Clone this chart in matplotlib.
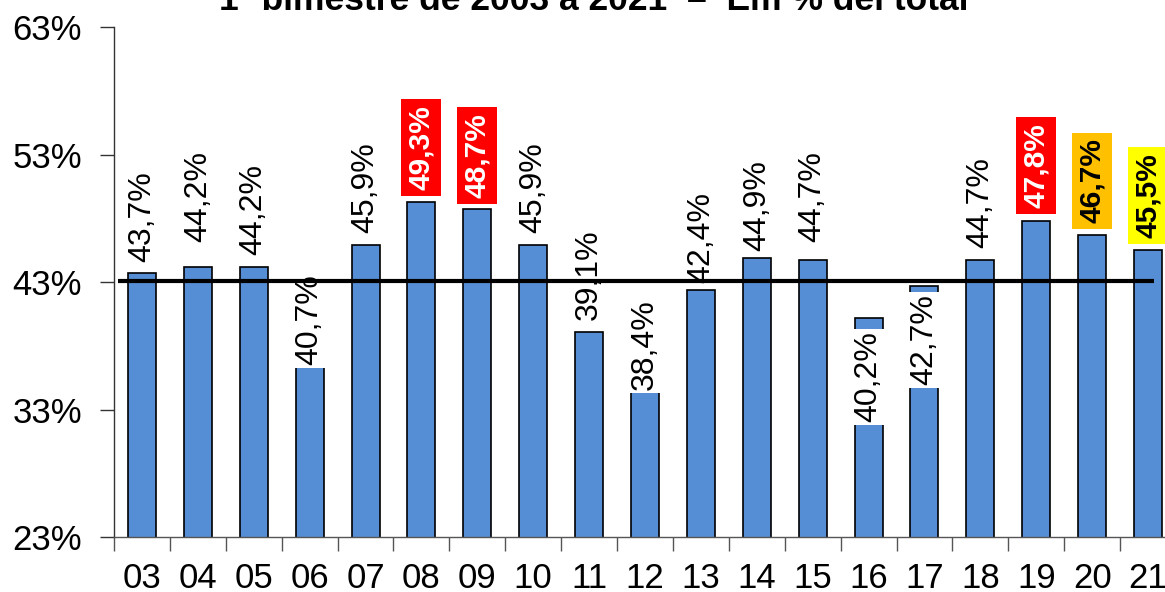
import matplotlib
matplotlib.use("Agg")
import matplotlib.pyplot as plt
from matplotlib.ticker import FixedLocator

plt.rcParams['font.family'] = ['Liberation Sans', 'DejaVu Sans']

# ---- data ----
years = ['03', '04', '05', '06', '07', '08', '09', '10', '11', '12',
         '13', '14', '15', '16', '17', '18', '19', '20', '21']
values = [43.7, 44.2, 44.2, 40.7, 45.9, 49.3, 48.7, 45.9, 39.1, 38.4,
          42.4, 44.9, 44.7, 40.2, 42.7, 44.7, 47.8, 46.7, 45.5]
reference_level = 43.1
title = "1º bimestre de 2003 a 2021  –  Em % del total"
yticks = [23, 33, 43, 53, 63]

# ---- styling (label placement offsets, highlight colours) ----
label_offset = [0.87, 1.94, 0.92, -4.21, 0.94, 0.9, 0.9, 0.94, 0.9, -3.87,
                0.5, 0.55, 1.4, -8.2, -7.8, 0.97, 1.0, 0.9, 0.95]
highlight = {5: ('#FF0000', 'white'), 6: ('#FF0000', 'white'),
             16: ('#FF0000', 'white'), 17: ('#FFC000', 'black'),
             18: ('#FFFF00', 'black')}
boxed_white = {3, 9, 13, 14}

fig = plt.figure(figsize=(11.65, 5.92), dpi=100)
ax = fig.add_axes([114 / 1165, 55 / 592, (1176 - 114) / 1165, 510 / 592])

x = list(range(len(years)))
ax.bar(x, values, width=0.5, color='#558ED5', edgecolor='black',
       linewidth=1.2, zorder=2)

ax.hlines(reference_level, -0.43, 18.1, colors='black', linewidth=3, zorder=5)

for i, v in enumerate(values):
    txt = f"{v:.1f}".replace('.', ',') + '%'
    y = v + label_offset[i]
    if i in highlight:
        fc, tc = highlight[i]
        ax.text(i, y, txt, rotation=90, ha='center', va='bottom',
                fontsize=21.5, fontweight='bold', color=tc, zorder=4,
                bbox=dict(boxstyle='square,pad=0.2', facecolor=fc,
                          edgecolor='none'))
    elif i in boxed_white:
        ax.text(i, y, txt, rotation=90, ha='center', va='bottom',
                fontsize=23, color='black', zorder=4,
                bbox=dict(boxstyle='square,pad=0.08', facecolor='white',
                          edgecolor='none'))
    else:
        ax.text(i, y, txt, rotation=90, ha='center', va='bottom',
                fontsize=23, color='black', zorder=4)

ax.set_xlim(-0.5, len(years) - 0.5)
ax.set_ylim(23, 63)

ax.set_yticks(yticks)
ax.set_yticklabels([f"{t}%" for t in yticks])
ax.tick_params(axis='y', length=10, width=1, pad=13, labelsize=25,
               direction='out', color='#333333')

ax.set_xticks(x)
ax.set_xticklabels(years)
ax.tick_params(axis='x', which='major', length=0, pad=18, labelsize=25)
ax.xaxis.set_minor_locator(FixedLocator([i - 0.5 for i in range(len(years) + 1)]))
ax.tick_params(axis='x', which='minor', length=10, width=1, color='#555555',
               direction='out')

for s in ['top', 'right']:
    ax.spines[s].set_visible(False)
ax.spines['left'].set_color('#333333')
ax.spines['bottom'].set_color('#555555')
ax.spines['left'].set_linewidth(1)
ax.spines['bottom'].set_linewidth(1)

fig.text(594 / 1165, 1 - 10 / 592, title, ha='center', va='baseline',
         fontsize=25.5, fontweight='bold')

fig.savefig('out.png', dpi=100)
